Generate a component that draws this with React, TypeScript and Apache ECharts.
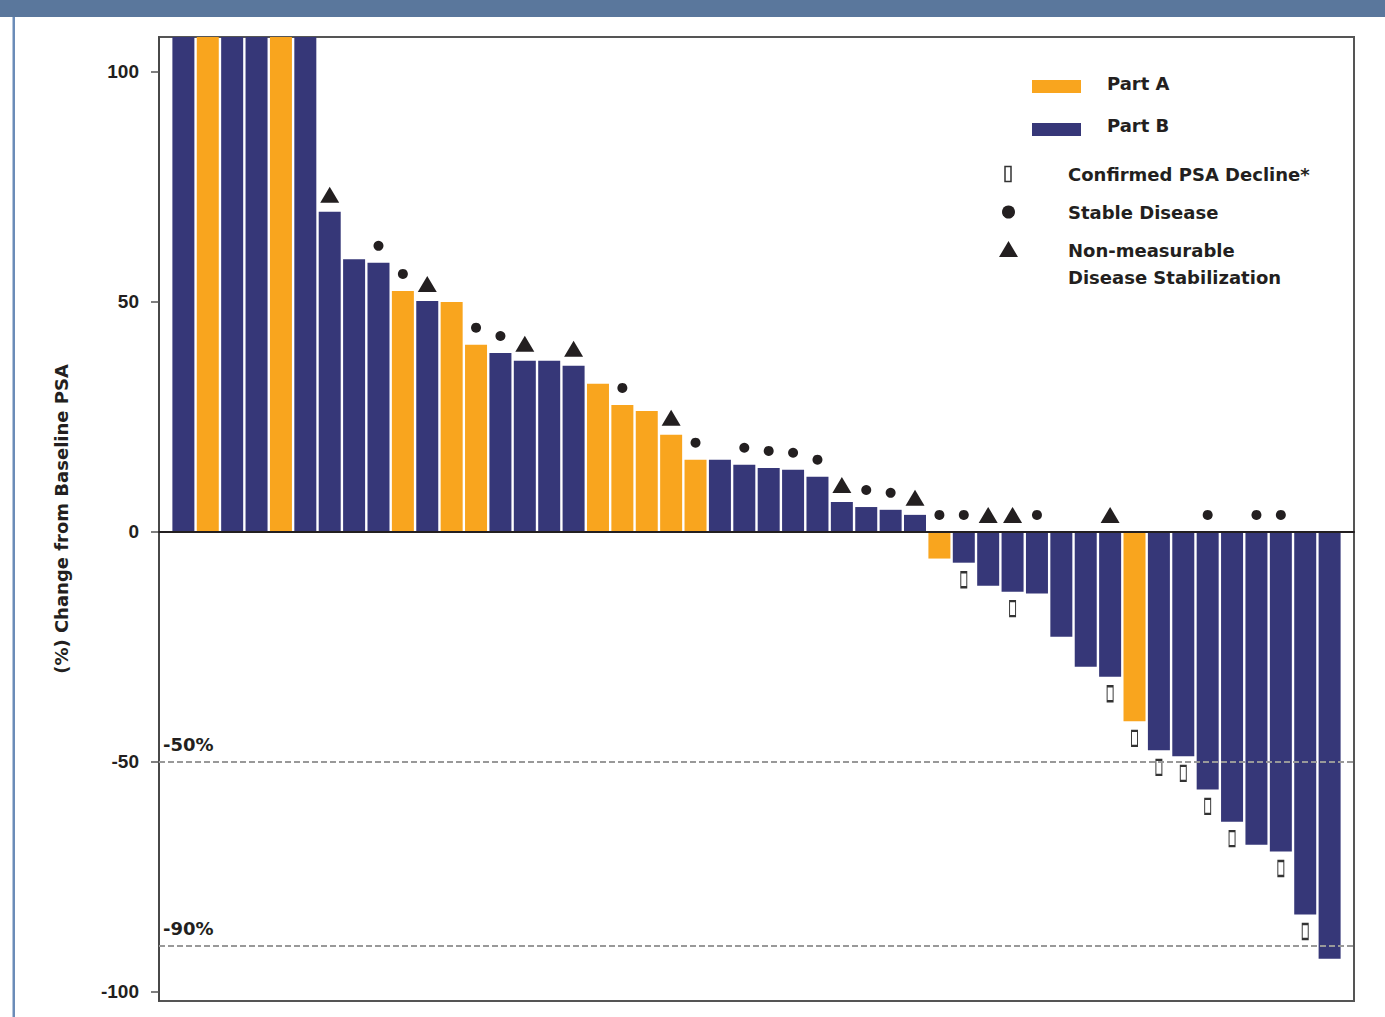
import React, { useEffect, useRef } from "react";
import * as echarts from "echarts";

// Patient groups in waterfall order (A = Part A, B = Part B)
const groups = [
  "B", "A", "B", "B", "A", "B", "B", "B", "B", "A", "B", "A", "A", "B", "B", "B",
  "B", "A", "A", "A", "A", "A", "B", "B", "B", "B", "B", "B", "B", "B", "B", "A",
  "B", "B", "B", "B", "B", "B", "B", "A", "B", "B", "B", "B", "B", "B", "B", "B",
];

// Best % change from baseline PSA (first six exceed the axis and are clipped)
const psaChange = [
  320, 280, 240, 210, 180, 150, 69.6, 59.3, 58.5, 52.4, 50.2, 50.0, 40.7, 38.9, 37.2, 37.2,
  36.1, 32.2, 27.6, 26.3, 21.1, 15.7, 15.7, 14.6, 13.9, 13.5, 12.0, 6.5, 5.4, 4.8, 3.7, -5.8,
  -6.7, -11.7, -13.0, -13.4, -22.8, -29.3, -31.5, -41.2, -47.5, -48.8, -56.0, -63.0, -68.0, -69.5, -83.2, -92.8,
];

// Marker assignments (1-based patient positions)
const confirmedDecline = [33, 35, 39, 40, 41, 42, 43, 44, 46, 47];
const stableDisease = [9, 10, 13, 14, 19, 22, 24, 25, 26, 27, 29, 30, 32, 33, 36, 43, 45, 46];
const nonMeasurable = [7, 11, 15, 17, 21, 28, 31, 34, 35, 39];

const yTicks = [-100, -50, 0, 50, 100];
const thresholds = [-50, -90];

const COLOR_A = "#F9A51E";
const COLOR_B = "#363778";
const INK = "#231f20";
const FONT_NUM = "Arial, 'Liberation Sans', sans-serif";
const FONT_TXT = "'DejaVu Sans', Verdana, sans-serif";

export default function App() {
  const ref = useRef<HTMLDivElement>(null);

  useEffect(() => {
    if (!ref.current) return;
    const chart = echarts.init(ref.current, undefined, { renderer: "svg" });

    const barData = psaChange.map((v, i) => ({
      value: [i, v],
      itemStyle: { color: groups[i] === "A" ? COLOR_A : COLOR_B },
    }));
    const above = (list: number[]) =>
      list.map((p) => [p - 1, Math.max(psaChange[p - 1], 0)]);
    const below = (list: number[]) => list.map((p) => [p - 1, psaChange[p - 1]]);

    const textStyle = { fontFamily: FONT_TXT, fontWeight: "bold" as const, fontSize: 18, fill: INK };

    chart.setOption({
      animation: false,
      grid: {
        left: 159,
        top: 37,
        right: 31,
        bottom: 16,
        show: true,
        borderColor: "#555",
        borderWidth: 2,
        backgroundColor: "transparent",
      },
      xAxis: {
        type: "value",
        min: -1,
        max: 48,
        z: 5,
        axisLine: { show: true, onZero: true, lineStyle: { color: INK, width: 2 } },
        axisTick: { show: false },
        axisLabel: { show: false },
        splitLine: { show: false },
      },
      yAxis: {
        type: "value",
        min: -102,
        max: 107.6,
        name: "(%) Change from Baseline PSA",
        nameLocation: "middle",
        nameGap: 89,
        nameTextStyle: { fontFamily: FONT_TXT, fontWeight: "bold", fontSize: 18, color: INK },
        axisLine: { show: true, onZero: false, lineStyle: { color: "#444", width: 1.5 } },
        axisTick: { show: true, inside: false, length: 8, customValues: yTicks, lineStyle: { color: "#555", width: 1.5 } },
        axisLabel: {
          customValues: yTicks,
          margin: 20,
          fontFamily: FONT_NUM,
          fontWeight: "bold",
          fontSize: 19,
          color: INK,
        },
        splitLine: { show: false },
      },
      series: [
        {
          type: "bar",
          name: "PSA change",
          data: barData,
          barWidth: 22,
          clip: true,
          z: 2,
          markLine: {
            silent: true,
            symbol: "none",
            lineStyle: { type: [6, 3], color: "#999", width: 2 },
            label: {
              position: "insideStartTop",
              distance: [4, 8],
              formatter: (p: any) => `${p.value}%`,
              fontFamily: FONT_TXT,
              fontWeight: "bold",
              fontSize: 18,
              color: INK,
            },
            data: thresholds.map((t) => ({ yAxis: t })),
          },
        },
        {
          type: "scatter",
          name: "Confirmed PSA Decline*",
          data: below(confirmedDecline),
          symbol: "rect",
          symbolSize: [6, 15],
          symbolOffset: [0, 17],
          itemStyle: { color: "#fff", borderColor: "#333", borderWidth: 1.5, opacity: 1 },
          z: 4,
        },
        {
          type: "scatter",
          name: "Stable Disease",
          data: above(stableDisease),
          symbol: "circle",
          symbolSize: 10,
          symbolOffset: [0, -17],
          itemStyle: { color: INK, opacity: 1 },
          z: 4,
        },
        {
          type: "scatter",
          name: "Non-measurable Disease Stabilization",
          data: above(nonMeasurable),
          symbol: "triangle",
          symbolSize: [19, 16],
          symbolOffset: [0, -17],
          itemStyle: { color: INK, opacity: 1 },
          z: 4,
        },
      ],
      graphic: [
        { type: "rect", shape: { x: 0, y: 0, width: 1385, height: 17 }, style: { fill: "#5a779c" } },
        { type: "rect", shape: { x: 12.5, y: 17, width: 2.5, height: 1000 }, style: { fill: "#6b8cb8" } },
        { type: "rect", shape: { x: 1032, y: 80, width: 49, height: 13 }, style: { fill: COLOR_A } },
        { type: "text", x: 1107, y: 83, style: { ...textStyle, text: "Part A", verticalAlign: "middle" } },
        { type: "rect", shape: { x: 1032, y: 123, width: 49, height: 13 }, style: { fill: COLOR_B } },
        { type: "text", x: 1107, y: 125, style: { ...textStyle, text: "Part B", verticalAlign: "middle" } },
        { type: "rect", shape: { x: 1005, y: 166.5, width: 6, height: 15 }, style: { fill: "#fff", stroke: "#333", lineWidth: 1.5 } },
        { type: "text", x: 1068, y: 174, style: { ...textStyle, text: "Confirmed PSA Decline*", verticalAlign: "middle" } },
        { type: "circle", shape: { cx: 1008.5, cy: 212, r: 6.5 }, style: { fill: INK } },
        { type: "text", x: 1068, y: 212, style: { ...textStyle, text: "Stable Disease", verticalAlign: "middle" } },
        { type: "polygon", shape: { points: [[999, 257], [1018, 257], [1008.5, 241]] }, style: { fill: INK } },
        { type: "text", x: 1068, y: 250, style: { ...textStyle, text: "Non-measurable", verticalAlign: "middle" } },
        { type: "text", x: 1068, y: 277, style: { ...textStyle, text: "Disease Stabilization", verticalAlign: "middle" } },
      ],
    });

    return () => chart.dispose();
  }, []);

  return (
    <div
      ref={ref}
      style={{ position: "fixed", left: 0, top: 0, width: 1385, height: 1017, background: "#fff" }}
    />
  );
}
